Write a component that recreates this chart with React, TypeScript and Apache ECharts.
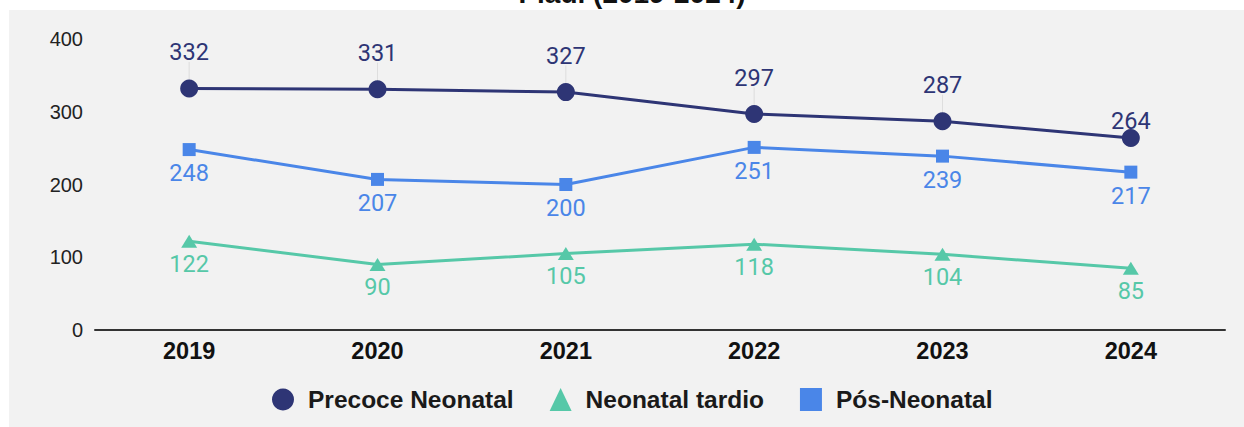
import React, { useEffect, useRef } from "react";
import * as echarts from "echarts";

const years = ["2019", "2020", "2021", "2022", "2023", "2024"];
const precoce = [332, 331, 327, 297, 287, 264];
const tardio = [122, 90, 105, 118, 104, 85];
const posNeo = [248, 207, 200, 251, 239, 217];
const yTicks = { min: 0, max: 400, interval: 100 };

const C_PRE = "#2e3575";
const C_TAR = "#56c8a8";
const C_POS = "#4a86e8";

export default function App() {
  const ref = useRef<HTMLDivElement>(null);
  useEffect(() => {
    if (!ref.current) return;
    const chart = echarts.init(ref.current, null, { renderer: "svg" });
    const labelFont = { fontFamily: "Roboto", fontSize: 23.5 };
    const last = precoce.length - 1;
    const precoceData = precoce.map((v, i) =>
      i === last ? { value: v, label: { distance: -4 } } : v
    );
    const guideData = precoce.map((v, i) =>
      i === last ? { value: v, symbolSize: 0 } : v
    );
    chart.setOption({
      animation: false,
      backgroundColor: "#ffffff",
      graphic: [
        {
          type: "rect",
          left: 9,
          top: 10,
          shape: { width: 1235, height: 417 },
          style: { fill: "#f2f2f2" },
          z: -10,
        },
        {
          type: "text",
          x: 632,
          y: 7,
          style: {
            text: "Piauí (2019-2024)",
            fontFamily: "Liberation Sans",
            fontWeight: "bold",
            fontSize: 28,
            fill: "#111",
            textAlign: "center",
            textVerticalAlign: "bottom",
          },
          z: -5,
        },
      ],
      grid: { left: 95, right: 19, top: 39, bottom: 97 },
      legend: {
        top: 382,
        left: 267,
        itemGap: 36,
        itemWidth: 22,
        itemHeight: 23,
        textStyle: {
          fontFamily: "Liberation Sans",
          fontWeight: "bold",
          fontSize: 24.5,
          color: "#1a1a1a",
          padding: [0, 0, 0, 9],
        },
        data: [
          { name: "Precoce Neonatal", icon: "circle" },
          { name: "Neonatal tardio", icon: "triangle" },
          { name: "Pós-Neonatal", icon: "rect" },
        ],
      },
      xAxis: {
        type: "category",
        data: years,
        axisLine: { lineStyle: { color: "#333", width: 2 } },
        axisTick: { show: false },
        axisLabel: {
          margin: 9,
          fontFamily: "Liberation Sans",
          fontWeight: "bold",
          fontSize: 23.5,
          color: "#111",
        },
      },
      yAxis: {
        type: "value",
        min: yTicks.min,
        max: yTicks.max,
        interval: yTicks.interval,
        axisLine: { show: false },
        axisTick: { show: false },
        splitLine: { show: false },
        axisLabel: {
          margin: 12,
          fontFamily: "Liberation Sans",
          fontSize: 20,
          color: "#222",
        },
      },
      series: [
        {
          name: "guide",
          type: "scatter",
          data: guideData,
          symbol: "rect",
          symbolSize: [1, 19],
          symbolOffset: [0, -17],
          itemStyle: { color: "#d8d8d8" },
          silent: true,
          z: 1,
        },
        {
          name: "Precoce Neonatal",
          type: "line",
          data: precoceData,
          symbol: "circle",
          symbolSize: 18,
          color: C_PRE,
          lineStyle: { width: 3, color: C_PRE },
          itemStyle: { color: C_PRE },
          label: { show: true, position: "top", distance: 15, color: C_PRE, ...labelFont },
          z: 3,
        },
        {
          name: "Neonatal tardio",
          type: "line",
          data: tardio,
          symbol: "triangle",
          symbolSize: [16, 13],
          color: C_TAR,
          lineStyle: { width: 3, color: C_TAR },
          itemStyle: { color: C_TAR },
          label: { show: true, position: "bottom", distance: 4, color: C_TAR, ...labelFont },
          z: 3,
        },
        {
          name: "Pós-Neonatal",
          type: "line",
          data: posNeo,
          symbol: "rect",
          symbolSize: 13,
          color: C_POS,
          lineStyle: { width: 3, color: C_POS },
          itemStyle: { color: C_POS },
          label: { show: true, position: "bottom", distance: 5, color: C_POS, ...labelFont },
          z: 3,
        },
      ],
    });
    return () => chart.dispose();
  }, []);
  return (
    <div
      ref={ref}
      style={{ position: "absolute", left: 0, top: 0, width: 1244, height: 427 }}
    />
  );
}
